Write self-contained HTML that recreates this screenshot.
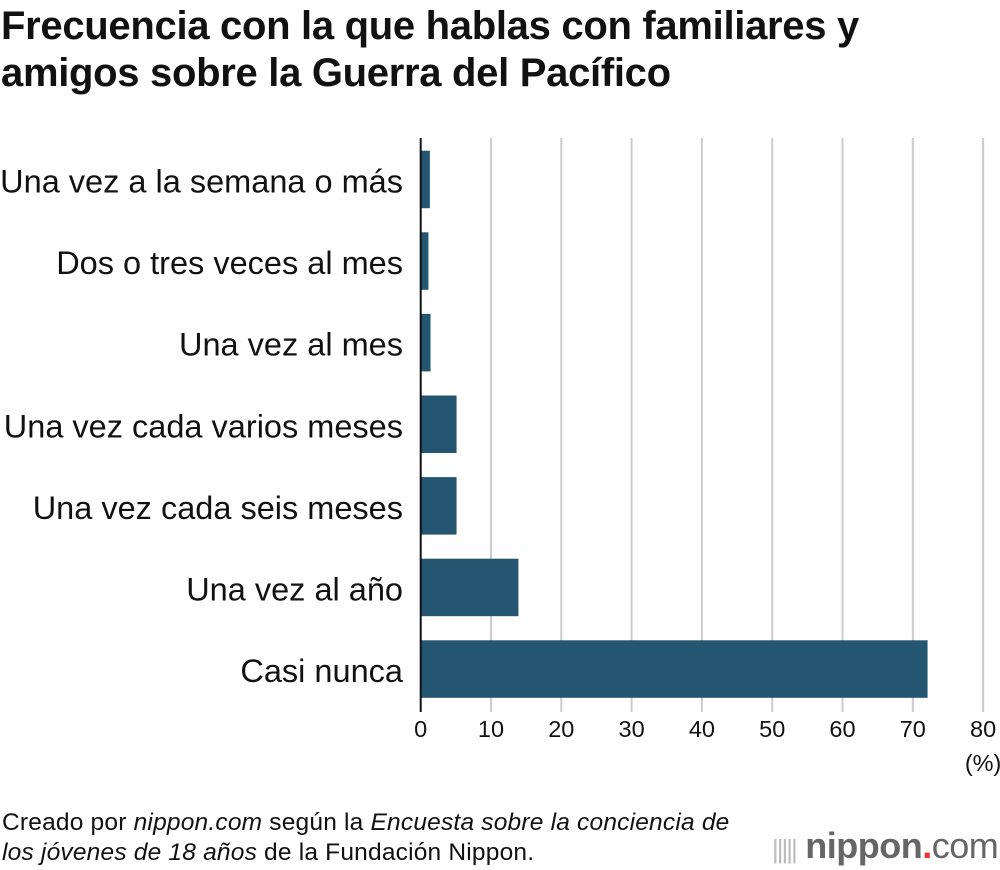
<!DOCTYPE html>
<html><head><meta charset="utf-8"><style>
body{margin:0;background:#fff;font-family:"Liberation Sans",sans-serif;}
#wrap{position:relative;width:1000px;height:870px;overflow:hidden;}
h1{position:absolute;left:1px;top:3px;margin:0;font-size:40px;line-height:47px;font-weight:bold;color:#111;letter-spacing:-0.3px;white-space:nowrap}
.src{position:absolute;left:2px;top:808px;font-size:24.5px;line-height:30px;color:#111;white-space:nowrap;letter-spacing:0.2px}
.logo{position:absolute;left:772px;top:825px;font-size:36px;color:#666;font-weight:bold;letter-spacing:-0.5px;white-space:nowrap}
</style></head><body>
<div id="wrap">
<h1>Frecuencia con la que hablas con familiares y<br>amigos sobre la Guerra del Pacífico</h1>
<svg id="chart" width="1000" height="870" style="position:absolute;left:0;top:0"></svg>
<div class="src">Creado por <i>nippon.com</i> según la <i>Encuesta sobre la conciencia de</i><br><i>los jóvenes de 18 años</i> de la Fundación Nippon.</div>
<div class="logo"><span style="font-weight:normal;color:#bbb;font-size:26px;letter-spacing:-2px">|||||</span> nippon<span style="color:#e33">.</span><span style="font-weight:normal">com</span></div>
</div>
<script>
const categories=["Una vez a la semana o más","Dos o tres veces al mes","Una vez al mes","Una vez cada varios meses","Una vez cada seis meses","Una vez al año","Casi nunca"];
const values=[1.3,1.1,1.4,5.1,5.1,13.9,72.1];
const ticks=[0,10,20,30,40,50,60,70,80];
const NS="http://www.w3.org/2000/svg";
const svg=document.getElementById('chart');
const x0=420.7,pxPer=7.03,top0=150.7,step=81.6,bh=57.5,yTop=138,yBot=712;
const xs=v=>x0+v*pxPer;
function mk(t,a){const e=document.createElementNS(NS,t);for(const k in a)e.setAttribute(k,a[k]);svg.appendChild(e);return e;}
ticks.forEach(t=>{
  if(t>0){const g=mk('line',{x1:xs(t),x2:xs(t),y1:yTop,y2:yBot,stroke:'#ccc','stroke-width':2});
  
  }
  const tx=mk('text',{x:xs(t),y:737,'text-anchor':'middle','font-size':23.5,fill:'#111','font-family':'Liberation Sans, sans-serif'});
  tx.textContent=t;
  
  
});
const u=mk('text',{x:xs(80),y:771,'text-anchor':'middle','font-size':23.5,fill:'#111','font-family':'Liberation Sans, sans-serif'});
u.textContent='(%)';


categories.forEach((c,i)=>{
  const y=top0+i*step;
  const r=mk('rect',{x:x0,y:y,width:xs(values[i])-x0,height:bh,fill:'#245672'});
  
  
  const l=mk('text',{x:403,y:y+bh/2+13,'text-anchor':'end','font-size':32.5,fill:'#111','font-family':'Liberation Sans, sans-serif'});
  l.textContent=c;
  
  
});
const ax=mk('line',{x1:x0,x2:x0,y1:yTop,y2:yBot,stroke:'#111','stroke-width':2});


</script>
</body></html>
